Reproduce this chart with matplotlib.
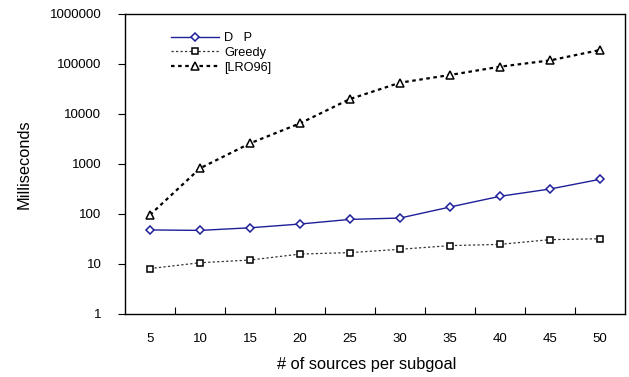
import numpy as np
import matplotlib
matplotlib.use("Agg")
import matplotlib.pyplot as plt
from matplotlib.ticker import FixedLocator, NullLocator

plt.rcParams['font.family'] = ['Liberation Sans', 'DejaVu Sans']

# --------------------- Daten ---------------------
quellen = [5, 10, 15, 20, 25, 30, 35, 40, 45, 50]
dp = [48, 47, 53, 63, 78, 83, 138, 226, 316, 494]
greedy = [8.1, 10.6, 12, 15.8, 16.9, 19.7, 23.3, 24.7, 30.7, 32]
lro96 = [96, 820, 2590, 6500, 19950, 42300, 60300, 88400, 118000, 190500]
y_ticks = [1, 10, 100, 1000, 10000, 100000, 1000000]

fig = plt.figure(figsize=(6.29, 3.77), dpi=100)
ax = fig.add_axes([125/629, 1 - 314/377, 500/629, 300/377])

ax.plot(quellen, dp, color='#1f1f99', lw=1.0, marker='D', ms=4,
        mfc='white', mec='#1f1f99', mew=1.1, label='D   P')
ax.plot(quellen, greedy, color='#333333', lw=0.9, ls=(0, (1.8, 1.8)), marker='s', ms=5,
        mfc='white', mec='black', mew=1.1, label='Greedy')
ax.plot(quellen, lro96, color='black', lw=1.6, ls=(0, (1.6, 1.6)), marker='^', ms=5.5,
        mfc='white', mec='black', mew=1.1, label='[LRO96]')

# --------------------- Achsen ---------------------
ax.set_yscale('log')
ax.set_ylim(1, 1000000)
ax.set_xlim(2.5, 52.5)
ax.yaxis.set_major_locator(FixedLocator(y_ticks))
ax.yaxis.set_minor_locator(NullLocator())
ax.set_yticklabels([str(v) for v in y_ticks])
ax.tick_params(axis='y', direction='out', length=5, width=0.8, labelsize=9.5, pad=12)

ax.set_xticks(quellen)
ax.set_xticklabels([str(q) for q in quellen])
ax.set_xticks([q + 2.5 for q in quellen[:-1]], minor=True)
ax.tick_params(axis='x', which='major', length=0, labelsize=9.5, pad=14)
ax.tick_params(axis='x', which='minor', direction='in', length=5, width=0.8)

for s in ax.spines.values():
    s.set_linewidth(1.0)

ax.set_xlabel('# of sources per subgoal', fontsize=11.8)
ax.xaxis.set_label_coords(0.484, -0.145)
ax.set_ylabel('Milliseconds', fontsize=11.8, labelpad=13)

ax.legend(loc='upper left', bbox_to_anchor=(0.08, 0.96), frameon=False, fontsize=9.2,
          handlelength=3.7, handletextpad=0.45, labelspacing=0.2, borderpad=0)

fig.savefig('out.png', dpi=100)
